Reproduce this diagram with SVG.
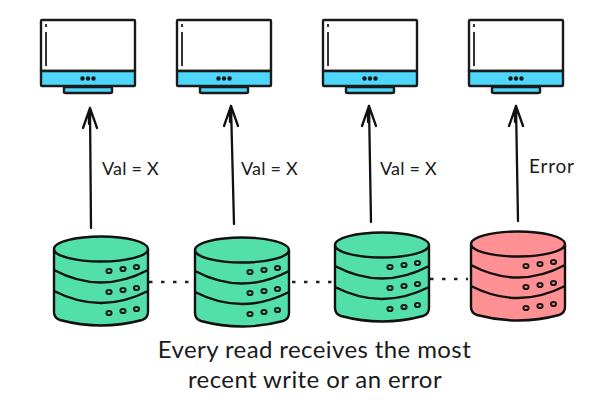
<svg xmlns="http://www.w3.org/2000/svg" width="599" height="408" viewBox="0 0 599 408">
<style>
.o{stroke:#1a1a1a;stroke-width:2.4;stroke-linejoin:round;stroke-linecap:round}
.w{fill:#fff}.b{fill:#4fd6fb}.n{fill:none}
.g{fill:#52dfa9}.r{fill:#ff9093}
.c{fill:none;stroke:#111;stroke-width:2.300;stroke-linecap:round;stroke-linejoin:round}
.d{fill:none;stroke:#222;stroke-width:2.400;stroke-dasharray:3.500 8.500}
.t{font-family:"Lato","Noto Sans",sans-serif;fill:#1a1a1a}
.dot{fill:none;stroke:#1a1a1a;stroke-width:2}
</style>
<defs>
<g id="mon">
<path class="o w" d="M1 0H93Q94 0 94 1V51H0V1Q0 0 1 0Z"/>
<path class="o b" d="M0 51H94V65Q94 66 93 66H1Q0 66 0 65Z"/>
<path class="n" stroke="#333" stroke-width="2" d="M5 4V7M5 12V46"/>
<path class="o b" d="M25 67H69Q71 67 71 68V72Q71 73 69 73H25Q23 73 23 72V68Q23 67 25 67Z"/>
<circle cx="41.500" cy="58.500" r="2.200" fill="#1a1a1a"/><circle cx="47" cy="58.500" r="2.200" fill="#1a1a1a"/><circle cx="52.500" cy="58.500" r="2.200" fill="#1a1a1a"/>
</g>
<g id="dbl">
<path class="n" stroke="#111" stroke-width="2.400" d="M0 12A47 12.500 0 0 1 94 12V75Q94 81 88 83Q47 94 6 83Q0 81 0 75ZM0 12A47 12.500 0 0 0 94 12M0 33Q47 58 94 33M0 54Q47 78 94 54"/>
<g class="dot">
<ellipse cx="55" cy="34" rx="2.600" ry="2.100"/><ellipse cx="69" cy="32" rx="2.600" ry="2.100"/><ellipse cx="82.500" cy="30" rx="2.600" ry="2.100"/>
<ellipse cx="55" cy="55" rx="2.600" ry="2.100"/><ellipse cx="69" cy="53" rx="2.600" ry="2.100"/><ellipse cx="82.500" cy="51" rx="2.600" ry="2.100"/>
<ellipse cx="55" cy="76" rx="2.600" ry="2.100"/><ellipse cx="69" cy="74" rx="2.600" ry="2.100"/><ellipse cx="82.500" cy="72" rx="2.600" ry="2.100"/>
</g>
</g>
<path id="body" d="M0 12A47 12.500 0 0 1 94 12V75Q94 81 88 83Q47 94 6 83Q0 81 0 75Z"/>
</defs>
<g id="connectors">
<path class="c" d="M91 228L90 108M83 128L90 108L97 128M89 124V112"/>
<path class="c" d="M234 224L231 106M224 126L231 106L238 126M230 122V110"/>
<path class="c" d="M371 222L369 106M362 126L369 106L376 126M368 122V110"/>
<path class="c" d="M518 221L516 106M509 126L516 106L523 126M515 122V110"/>
<path class="d" d="M149 282H190"/>
<path class="d" d="M292 282H332"/>
<path class="d" d="M430 279H468"/>
</g>
<g id="monitor1"><use href="#mon" x="41" y="20"/></g>
<g id="monitor2"><use href="#mon" x="177" y="20"/></g>
<g id="monitor3"><use href="#mon" x="323" y="20"/></g>
<g id="monitor4"><use href="#mon" x="469" y="20"/></g>
<g id="db1"><use href="#body" x="54" y="237" class="g"/><use href="#dbl" x="54" y="237"/></g>
<g id="db2"><use href="#body" x="195" y="238" class="g"/><use href="#dbl" x="195" y="238"/></g>
<g id="db3"><use href="#body" x="335" y="233" class="g"/><use href="#dbl" x="335" y="233"/></g>
<g id="db4"><use href="#body" x="471" y="232" class="r"/><use href="#dbl" x="471" y="232"/></g>
<g id="labels" class="t">
<text x="102" y="175" font-size="18" letter-spacing=".2">Val = X</text>
<text x="241" y="175" font-size="18" letter-spacing=".2">Val = X</text>
<text x="380" y="175" font-size="18" letter-spacing=".2">Val = X</text>
<text x="529" y="173" font-size="19" letter-spacing=".8">Error</text>
<text x="314.500" y="358" font-size="24" letter-spacing=".4" text-anchor="middle">Every read receives the most</text>
<text x="315" y="388" font-size="24" letter-spacing=".4" text-anchor="middle">recent write or an error</text>
</g>
</svg>
